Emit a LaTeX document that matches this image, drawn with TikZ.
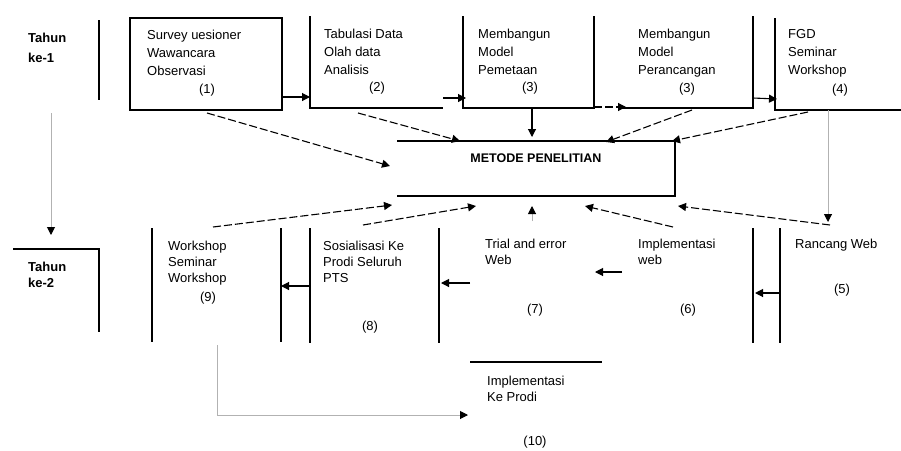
\documentclass[tikz,border=0pt]{standalone}
\usepackage{fontspec}
\setmainfont{Liberation Sans}
\usetikzlibrary{arrows.meta}
\begin{document}
\begin{tikzpicture}[x=1pt,y=-1pt,
  ln/.style={line width=1.1pt},
  box/.style={draw=none,inner sep=0pt,outer sep=0pt,anchor=north west},
  txt/.style={inner sep=0pt,anchor=north west,align=left,font=\fontsize{13}{18}\selectfont},
  txtb/.style={inner sep=0pt,anchor=north west,align=left,font=\fontsize{13}{16}\selectfont},
  num/.style={inner sep=0pt,font=\fontsize{13}{16}\selectfont},
  arr/.style={-{Triangle[length=8pt,width=8pt]},line width=1.1pt},
  darr/.style={arr,dash pattern=on 8pt off 3pt},
  garr/.style={-{Triangle[length=8pt,width=8pt,color=black]},draw=gray!60,line width=1pt}]
\useasboundingbox (0,0) rectangle (901,450);
\fill[white] (0,0) rectangle (901,450);
% year labels
\node[txt,font=\bfseries\fontsize{13}{20}\selectfont] (y1) at (28,33) {Tahun\\ke-1};
\draw[ln] (99,20) -- (99,100);
\node[txt,font=\bfseries\fontsize{13}{16}\selectfont] (y2) at (28,262) {Tahun\\ke-2};
\draw[ln] (13,249) -- (99,249) -- (99,332);
% top boxes
\node[box,minimum width=152pt,minimum height=92pt] (b1) at (130,18) {};
\draw[ln] (b1.north west) rectangle (b1.south east);
\node[box,minimum width=133pt,minimum height=92pt] (b2) at (310,16) {};
\draw[ln] (b2.north west) -- (b2.south west) -- (b2.south east);
\node[box,minimum width=131pt,minimum height=92pt] (b3) at (463,16) {};
\draw[ln] (b3.north west) -- (b3.south west) -- (b3.south east) -- (b3.north east);
\node[box,minimum width=131pt,minimum height=92pt] (b4) at (622,16) {};
\draw[ln] (b4.south west) -- (b4.south east) -- (b4.north east);
\node[box,minimum width=130pt,minimum height=92pt] (b5) at (775,18) {};
\draw[ln] (b5.north west) -- (b5.south west) -- (b5.south east);
\node[txt] (t1) at (147,30) {Survey uesioner\\Wawancara\\Observasi};
\node[num] (n1) at (207,90) {(1)};
\node[txt] (t2) at (324,29) {Tabulasi Data\\Olah data\\Analisis};
\node[num] (n2) at (377,88) {(2)};
\node[txt] (t3) at (478,29) {Membangun\\Model\\Pemetaan};
\node[num] (n3) at (530,88) {(3)};
\node[txt] (t4) at (638,29) {Membangun\\Model\\Perancangan};
\node[num] (n4) at (687,89) {(3)};
\node[txt] (t5) at (788,29) {FGD\\Seminar\\Workshop};
\node[num] (n5) at (840,90) {(4)};
% metode
\node[box,minimum width=278pt,minimum height=55pt] (met) at (397,141) {};
\draw[ln] (met.north west) -- (met.north east) -- (met.south east) -- (met.south west);
\node[inner sep=0pt,font=\bfseries\fontsize{12.5}{15}\selectfont] (mt) at (536,158) {METODE PENELITIAN};
% bottom boxes
\node[box,minimum width=129pt,minimum height=114pt] (b9) at (152,228) {};
\draw[ln] (b9.north west) -- (b9.south west);
\draw[ln] (b9.north east) -- (b9.south east);
\node[box,minimum width=129pt,minimum height=115pt] (b8) at (310,228) {};
\draw[ln] (b8.north west) -- (b8.south west);
\draw[ln] (b8.north east) -- (b8.south east);
\node[box,minimum width=27pt,minimum height=115pt] (b6l) at (753,228) {};
\draw[ln] (b6l.north west) -- (b6l.south west);
\draw[ln] (b6l.north east) -- (b6l.south east);
\node[txtb] (t9) at (168,241) {Workshop\\Seminar\\Workshop};
\node[num] (n9) at (208,298) {(9)};
\node[txtb] (t8) at (323,241) {Sosialisasi Ke\\Prodi Seluruh\\PTS};
\node[num] (n8) at (370,327) {(8)};
\node[txtb] (t7) at (485,239) {Trial and error\\Web};
\node[num] (n7) at (535,310) {(7)};
\node[txtb] (t6) at (638,239) {Implementasi\\web};
\node[num] (n6) at (688,310) {(6)};
\node[txtb] (t5b) at (795,239) {Rancang Web};
\node[num] (n5b) at (842,290) {(5)};
\draw[ln] (470,362) -- (602,362);
\node[txtb] (t10) at (487,376) {Implementasi\\Ke Prodi};
\node[num] (n10) at (535,442) {(10)};
% connector coordinates
\coordinate (p1) at (282,97);   \coordinate (p2) at (310,97);
\coordinate (p3) at (443,98);   \coordinate (p4) at (466,98);
\coordinate (p5) at (594,107);  \coordinate (p6) at (626,107);
\coordinate (p7) at (753,98);   \coordinate (p8) at (777,99);
\coordinate (p9) at (532,108);  \coordinate (p10) at (532,137);
\coordinate (q1) at (207,113);  \coordinate (q2) at (390,166);
\coordinate (q3) at (358,113);  \coordinate (q4) at (460,141);
\coordinate (q5) at (692,110);  \coordinate (q6) at (606,142);
\coordinate (q7) at (808,112);  \coordinate (q8) at (672,141);
\coordinate (g1) at (828,110);  \coordinate (g2) at (828,222);
\coordinate (g3) at (51,113);   \coordinate (g4) at (51,235);
\coordinate (r1) at (213,227);  \coordinate (r2) at (392,205);
\coordinate (r3) at (363,225);  \coordinate (r4) at (476,206);
\coordinate (r5) at (532,221);  \coordinate (r6) at (532,206);
\coordinate (r7) at (673,227);  \coordinate (r8) at (585,206);
\coordinate (r9) at (830,225);  \coordinate (r10) at (678,206);
\coordinate (s1) at (310,286);  \coordinate (s2) at (281,286);
\coordinate (s3) at (470,283);  \coordinate (s4) at (441,283);
\coordinate (s5) at (622,272);  \coordinate (s6) at (595,272);
\coordinate (s7) at (780,293);  \coordinate (s8) at (755,293);
\coordinate (l1) at (217,345);  \coordinate (l2) at (217,415);  \coordinate (l3) at (468,415);
% connectors
\draw[arr] (p1) -- (p2);
\draw[arr] (p3) -- (p4);
\draw[darr] (p5) -- (p6);
\draw[arr] (p7) -- (p8);
\draw[arr] (p9) -- (p10);
\draw[darr] (q1) -- (q2);
\draw[darr] (q3) -- (q4);
\draw[darr] (q5) -- (q6);
\draw[darr] (q7) -- (q8);
\draw[garr] (g1) -- (g2);
\draw[garr] (g3) -- (g4);
\draw[darr] (r1) -- (r2);
\draw[darr] (r3) -- (r4);
\draw[garr] (r5) -- (r6);
\draw[darr] (r7) -- (r8);
\draw[darr] (r9) -- (r10);
\draw[arr] (s1) -- (s2);
\draw[arr] (s3) -- (s4);
\draw[arr] (s5) -- (s6);
\draw[arr] (s7) -- (s8);
\draw[garr] (l1) -- (l2) -- (l3);
\end{tikzpicture}
\end{document}
